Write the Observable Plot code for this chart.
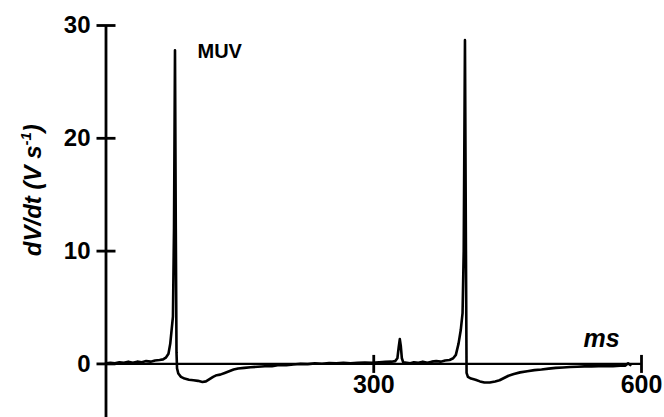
<!DOCTYPE html>
<html><head><meta charset="utf-8">
<script src="https://cdn.jsdelivr.net/npm/d3@7"></script>
<script src="https://cdn.jsdelivr.net/npm/@observablehq/plot@0.6"></script>
<style>
html,body{margin:0;padding:0;background:#fff}
</style></head><body><div id="chart"></div>
<script>
// Recorded trace: time (ms) and dV/dt (V s^-1)
const time = [0,5,10,15,20,25,30,35,40,45,50,55,60,64,67,70,72,73.5,75,76.2,77.3,78.2,79,79.6,81,84,88,93,98,103,108,112,116,120,124,128,133,138,143,148,155,162,170,178,186,194,202,210,218,226,234,242,250,258,266,274,282,290,298,306,313,320,324,326.5,328,329.2,330.3,331.5,333,337,341,345,350,355,360,365,370,375,380,385,389,392,395,397.5,399.5,400.8,402.2,403.3,404,405.5,409,414,419,424,430,436,441,446,451,457,464,472,480,488,496,504,512,520,528,536,544,552,560,568,576,582,585,587.5];
const dvdt = [0.05,0.1,0.05,0.15,0.1,0.2,0.1,0.2,0.15,0.25,0.2,0.3,0.35,0.4,0.55,0.9,1.8,3,4.2,12,27.8,12,1,-0.4,-0.85,-1.15,-1.3,-1.4,-1.45,-1.5,-1.6,-1.55,-1.35,-1.15,-1.0,-0.95,-0.8,-0.65,-0.5,-0.4,-0.35,-0.3,-0.25,-0.2,-0.2,-0.1,-0.12,-0.05,0,-0.02,0.05,0.02,0.08,0.05,0.1,0.05,0.1,0.12,0.1,0.15,0.18,0.2,0.25,0.5,1.5,2.2,1.6,0.5,0.15,0.1,0.05,0.15,0.1,0.2,0.1,0.2,0.25,0.2,0.3,0.35,0.5,0.8,1.8,3,4.5,10,28.7,10,-0.8,-1.15,-1.3,-1.4,-1.55,-1.65,-1.65,-1.55,-1.45,-1.25,-1.05,-0.9,-0.75,-0.65,-0.55,-0.5,-0.42,-0.35,-0.32,-0.28,-0.25,-0.22,-0.22,-0.2,-0.18,-0.2,-0.15,-0.15,0.05,-0.1];

const xDomain = [0, 600];
const yDomain = [-4.75, 30];
const yTicks = [0, 10, 20, 30];
const yTickLabels = ["0", "10", "20", "30"];
const xTicks = [300, 600];
const xTickLabels = ["300", "600"];
const annotations = [{t: 102.5, v: 27.08, label: "MUV"}];
const xLabels = [{t: 535, v: 1.46, label: "ms"}];
const yLabels = [{t: -81, v: 15.4, label: "dV/dt (V s⁻¹)"}];

const trace = time.map((t, i) => ({t, v: dvdt[i]}));

const hTick = {draw(ctx, size) { const r = Math.sqrt(size / Math.PI); ctx.moveTo(-r, 0); ctx.lineTo(r, 0); }};
const vTick = {draw(ctx, size) { const r = Math.sqrt(size / Math.PI); ctx.moveTo(0, -r); ctx.lineTo(0, r); }};

const font = "'Liberation Sans', Arial, Helvetica, sans-serif";

const plot = Plot.plot({
  width: 664, height: 417,
  marginLeft: 105.5, marginRight: 23, marginTop: 25, marginBottom: 0,
  x: {domain: xDomain, axis: null},
  y: {domain: yDomain, axis: null},
  style: {fontFamily: font, background: "#fff", color: "#000", overflow: "visible"},
  marks: [
    Plot.ruleX([0], {stroke: "#000", strokeWidth: 2.8}),
    Plot.ruleY([0], {stroke: "#000", strokeWidth: 2.3}),
    Plot.dot(yTicks, {x: 0, y: d => d, symbol: hTick, r: 9.5, stroke: "#000", fill: "none", strokeWidth: 2.8}),
    Plot.dot(xTicks, {x: d => d, y: 0, symbol: vTick, r: 9, stroke: "#000", fill: "none", strokeWidth: 2.8}),
    Plot.line(trace, {x: "t", y: "v", stroke: "#000", strokeWidth: 2.6, strokeLinejoin: "round"}),
    Plot.text(yTicks, {x: 0, y: d => d, text: (d, i) => yTickLabels[i], textAnchor: "end", dx: -15.5, fontSize: 24, fontWeight: "bold", fill: "#000"}),
    Plot.text(xTicks, {x: d => d, y: 0, text: (d, i) => xTickLabels[i], dy: 21, fontSize: 25, fontWeight: "bold", fill: "#000"}),
    Plot.text(annotations, {x: "t", y: "v", text: "label", textAnchor: "start", lineAnchor: "bottom", fontSize: 20, fontWeight: "bold", fill: "#000"}),
    Plot.text(xLabels, {x: "t", y: "v", text: "label", textAnchor: "start", lineAnchor: "bottom", fontSize: 25, fontWeight: "bold", fontStyle: "italic", fill: "#000"}),
    Plot.text(yLabels, {x: "t", y: "v", text: "label", rotate: -90, fontSize: 24, fontWeight: "bold", fontStyle: "italic", fill: "#000"})
  ]
});

// Render the superscript of the y label as a raised tspan
d3.select(plot).selectAll("text").filter(function() { return this.textContent === yLabels[0].label; })
  .each(function() {
    const t = d3.select(this);
    t.text("dV/dt (V s");
    t.append("tspan").attr("dy", -10).attr("font-size", 15).text("-1");
    t.append("tspan").attr("dy", 10).text(")");
  });

document.getElementById("chart").appendChild(plot);
</script>
</body></html>
